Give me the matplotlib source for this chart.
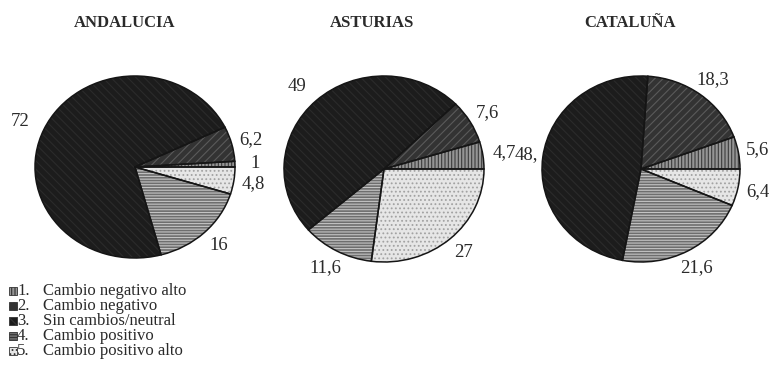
import matplotlib
matplotlib.use("Agg")
import matplotlib.pyplot as plt
from matplotlib.patches import Rectangle

plt.rcParams["font.family"] = ["Liberation Serif", "DejaVu Serif"]
plt.rcParams["hatch.linewidth"] = 0.8

# Data: share of responses per category (percent)
regions = ["ANDALUCIA", "ASTURIAS", "CATALUÑA"]
categories = ["Cambio negativo alto", "Cambio negativo", "Sin cambios/neutral",
              "Cambio positivo", "Cambio positivo alto"]
andalucia = [1, 6.2, 72, 16, 4.8]
asturias = [4.7, 7.6, 49, 11.6, 27]
cataluna = [5.6, 18.3, 48.1, 21.6, 6.4]
andalucia_labels = ["1", "6,2", "72", "16", "4,8"]
asturias_labels = ["4,7", "7,6", "49", "11,6", "27"]
cataluna_labels = ["5,6", "18,3", "48,", "21,6", "6,4"]

# Fill style per category: face colour, hatch colour, hatch pattern
faces = ["#959595", "#333333", "#1c1c1c", "#6e6e6e", "#e6e6e6"]
hatch_cols = ["#3c3c3c", "#5a5a5a", "#2b2b2b", "#c4c4c4", "#a2a2a2"]
hatches = ["|||||", "////", "\\\\\\\\", "------", "...."]

W, H = 774, 373
fig = plt.figure(figsize=(W / 100, H / 100), dpi=100)


def pie_axes(cx, cy, rx, ry):
    return fig.add_axes([(cx - rx) / W, 1 - (cy + ry) / H, 2 * rx / W, 2 * ry / H])


def draw_pie(ax, values, labels, label_shift):
    wedges, _ = ax.pie(values, startangle=0, counterclock=True, radius=1,
                       wedgeprops=dict(linewidth=0))
    for w, fc, hc, ht in zip(wedges, faces, hatch_cols, hatches):
        w.set_facecolor(fc)
        w.set_edgecolor(hc)
        w.set_hatch(ht)
    _, texts = ax.pie(values, startangle=0, counterclock=True, radius=1,
                      labels=labels, labeldistance=1.2,
                      wedgeprops=dict(fill=False, edgecolor="#151515", linewidth=1.1),
                      textprops=dict(fontsize=13.5, color="#2a2a2a"))
    for t, dx in zip(texts, label_shift):
        t.set_ha("center")
        t.set_va("center")
        x, y = t.get_position()
        t.set_position((x + dx, y))
    ax.set_aspect("auto")
    ax.set_xlim(-1, 1)
    ax.set_ylim(-1, 1)
    ax.axis("off")


layout = [(135, 167, 100, 91), (384, 169, 100, 93), (641, 169, 99, 93)]
shifts = [[0, 0, -0.06, 0, 0], [0.02, 0, -0.06, -0.02, 0], [0, 0, 0.03, 0, 0]]
title_x = [125, 372, 630]
for (cx, cy, rx, ry), vals, labs, sh, name, tx in zip(
        layout, [andalucia, asturias, cataluna],
        [andalucia_labels, asturias_labels, cataluna_labels], shifts, regions, title_x):
    ax = pie_axes(cx, cy, rx, ry)
    draw_pie(ax, vals, labs, sh)
    fig.text(tx / W, 1 - 23 / H, name, ha="center", va="center",
             fontsize=12, fontweight="bold", color="#2a2a2a")

# Legend
for i, (cat, fc, hc, ht) in enumerate(zip(categories, faces, hatch_cols, hatches)):
    y = 291 + 15 * i
    fig.patches.append(Rectangle((9 / W, 1 - (y + 4) / H), 8 / W, 8 / H,
                                 transform=fig.transFigure, facecolor=fc,
                                 edgecolor="#333333", hatch=ht, linewidth=0.6))
    fig.text(17 / W, 1 - y / H, f"{i + 1}.", ha="left", va="center",
             fontsize=12, color="#2a2a2a")
    fig.text(43 / W, 1 - y / H, cat, ha="left", va="center",
             fontsize=12, color="#2a2a2a")

fig.savefig("out.png", dpi=100)
